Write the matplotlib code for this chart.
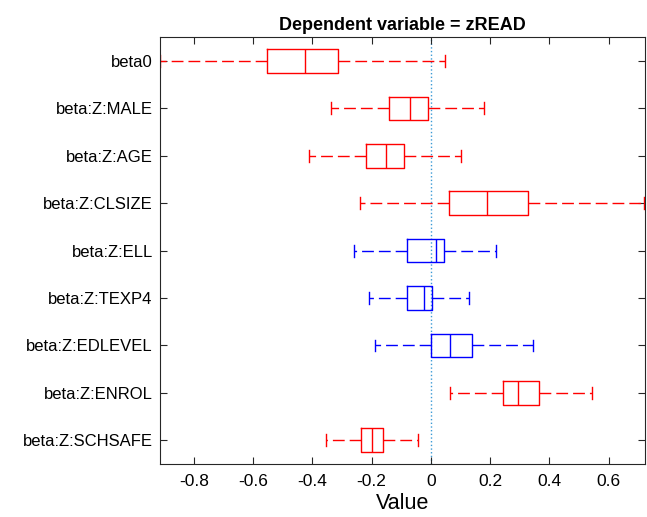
import matplotlib
matplotlib.use("Agg")
import matplotlib.pyplot as plt

plt.rcParams['font.family'] = ['Liberation Sans', 'DejaVu Sans']

labels = ["beta0", "beta:Z:MALE", "beta:Z:AGE", "beta:Z:CLSIZE", "beta:Z:ELL",
          "beta:Z:TEXP4", "beta:Z:EDLEVEL", "beta:Z:ENROL", "beta:Z:SCHSAFE"]
whisker_lo = [-0.915, -0.336, -0.410, -0.239, -0.260, -0.208, -0.189, 0.064, -0.353]
q1 = [-0.554, -0.143, -0.219, 0.062, -0.079, -0.082, -0.001, 0.243, -0.237]
median = [-0.424, -0.069, -0.151, 0.188, 0.016, -0.024, 0.063, 0.293, -0.200]
q3 = [-0.313, -0.011, -0.091, 0.327, 0.044, 0.002, 0.138, 0.363, -0.160]
whisker_hi = [0.048, 0.180, 0.101, 0.720, 0.218, 0.128, 0.345, 0.542, -0.044]
colors = ["red", "red", "red", "red", "blue", "blue", "blue", "red", "red"]
xticks = [-0.8, -0.6, -0.4, -0.2, 0, 0.2, 0.4, 0.6]

fig = plt.figure(figsize=(6.47, 5.17), dpi=100)
ax = fig.add_axes([0.2468, 0.1025, 0.75, 0.8254])

stats = []
for i, lab in enumerate(labels):
    stats.append(dict(label=lab, whislo=whisker_lo[i], q1=q1[i], med=median[i],
                      q3=q3[i], whishi=whisker_hi[i], fliers=[]))
positions = list(range(1, len(labels) + 1))
bp = ax.bxp(stats, positions=positions, vert=False, widths=0.5, showfliers=False,
            patch_artist=False, capwidths=0.25)
for i, c in enumerate(colors):
    bp['boxes'][i].set(color=c, linewidth=1.0)
    bp['medians'][i].set(color=c, linewidth=1.0)
    for w in bp['whiskers'][2*i:2*i+2]:
        w.set(color=c, linewidth=1.0, linestyle=(0, (8.5, 3.6)))
    for cp in bp['caps'][2*i:2*i+2]:
        cp.set(color=c, linewidth=1.0)

ax.axvline(0, color='#3b9ad6', linestyle=':', linewidth=1.0, zorder=0)

ax.set_xlim(-0.915, 0.722)
ax.set_ylim(9.5, 0.5)
ax.set_yticks(positions)
ax.set_yticklabels(labels, fontsize=12)
ax.set_xticks(xticks)
ax.set_xticklabels([f"{t:g}" for t in xticks], fontsize=12.5)
ax.tick_params(direction='in', top=True, right=True, length=5, width=0.8, color='#262626', pad=7)
ax.tick_params(axis='y', pad=5)
for s in ax.spines.values():
    s.set_color('#262626')
    s.set_linewidth(0.8)
ax.set_xlabel("Value", fontsize=15.5, labelpad=3)
ax.set_title("Dependent variable = zREAD", fontsize=13, fontweight='bold', pad=5)

fig.savefig("out.png", dpi=100)
